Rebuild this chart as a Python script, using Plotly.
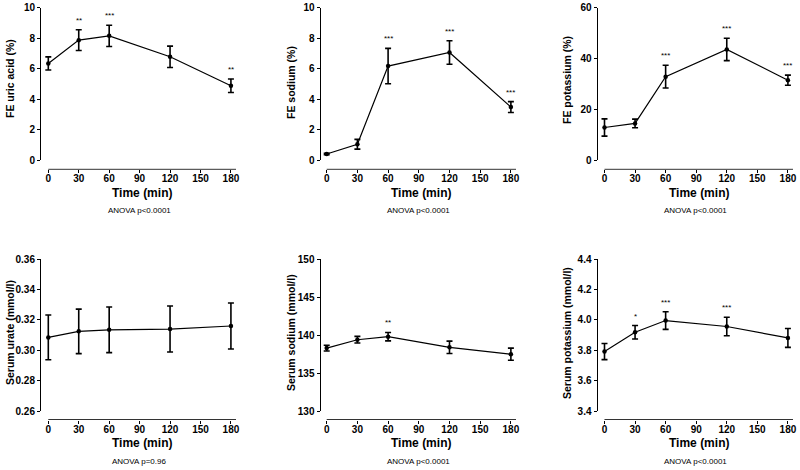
import plotly.graph_objects as go

time_min = [0, 30, 60, 120, 180]

fe_urate = [6.33, 7.86, 8.14, 6.77, 4.87]
fe_urate_err = [0.43, 0.68, 0.70, 0.70, 0.44]
fe_urate_sig = ["", "**", "***", "", "**"]

fe_sodium = [0.39, 1.03, 6.16, 7.05, 3.47]
fe_sodium_err = [0.05, 0.32, 1.16, 0.77, 0.36]
fe_sodium_sig = ["", "", "***", "***", "***"]

fe_potassium = [12.8, 14.4, 32.8, 43.5, 31.4]
fe_potassium_err = [3.4, 1.7, 4.5, 4.4, 2.0]
fe_potassium_sig = ["", "", "***", "***", "***"]

s_urate = [0.3085, 0.3125, 0.3135, 0.3140, 0.3160]
s_urate_err = [0.0147, 0.0146, 0.0150, 0.0151, 0.0151]
s_urate_sig = ["", "", "", "", ""]

s_sodium = [138.3, 139.4, 139.8, 138.4, 137.5]
s_sodium_err = [0.38, 0.44, 0.55, 0.81, 0.79]
s_sodium_sig = ["", "", "**", "", ""]

s_potassium = [3.792, 3.919, 3.996, 3.957, 3.882]
s_potassium_err = [0.053, 0.044, 0.058, 0.061, 0.062]
s_potassium_sig = ["", "*", "***", "***", ""]

y_titles = ["FE uric acid (%)", "FE sodium (%)", "FE potassium (%)",
            "Serum urate (mmol/l)", "Serum sodium (mmol/l)", "Serum potassium (mmol/l)"]
anova_texts = ["ANOVA p<0.0001", "ANOVA p<0.0001", "ANOVA p<0.0001",
               "ANOVA p=0.96", "ANOVA p<0.0001", "ANOVA p<0.0001"]
x_ticks = [0, 30, 60, 90, 120, 150, 180]
y_ticks = [
    [0, 2, 4, 6, 8, 10],
    [0, 2, 4, 6, 8, 10],
    [0, 20, 40, 60],
    [0.26, 0.28, 0.30, 0.32, 0.34, 0.36],
    [130, 135, 140, 145, 150],
    [3.4, 3.6, 3.8, 4.0, 4.2, 4.4],
]
y_fmt = ["d", "d", "d", ".2f", "d", ".1f"]

panels = [
    (fe_urate, fe_urate_err, fe_urate_sig),
    (fe_sodium, fe_sodium_err, fe_sodium_sig),
    (fe_potassium, fe_potassium_err, fe_potassium_sig),
    (s_urate, s_urate_err, s_urate_sig),
    (s_sodium, s_sodium_err, s_sodium_sig),
    (s_potassium, s_potassium_err, s_potassium_sig),
]

W, H = 800, 470
FONT = "Liberation Sans, Arial, sans-serif"
X_END = 185   # end of the drawn time axis
X_PAD = 8     # extra room left of t=0 so the first error bar is not clipped


def fx(px):
    return min(1.0, max(0.0, px / W))


def fy(py):
    return min(1.0, max(0.0, 1 - py / H))


# layout geometry in screen pixels (x of t=0, x of axis end)
col_x = [(48.3, 236.0), (326.7, 516.0), (604.5, 793.0)]
col_yaxis = [40.0, 319.5, 596.5]
row_y = [(7.5, 160.0), (259.0, 411.3)]
row_xaxis = [169.3, 419.5]
ytitle_x = [10, 291, 567]
ytitle_y = [[79, 333], [83, 333], [80, 333]]
xtitle_y = [193, 443]
anova_y = [211, 461]

fig = go.Figure()
annotations = []
shapes = []
layout = {}

for i, (vals, errs, sigs) in enumerate(panels):
    r, c = divmod(i, 3)
    n = i + 1
    xa = "x" if n == 1 else f"x{n}"
    ya = "y" if n == 1 else f"y{n}"
    fig.add_trace(go.Scatter(
        x=time_min, y=vals, xaxis=xa, yaxis=ya,
        mode="lines+markers",
        line=dict(color="black", width=1.2),
        marker=dict(color="black", size=4.5),
        error_y=dict(type="data", array=errs, visible=True,
                     color="black", thickness=1.6, width=3),
        showlegend=False, cliponaxis=False, hoverinfo="skip",
    ))
    x0, x1 = col_x[c]
    scale = (x1 - x0) / X_END
    y0, y1 = row_y[r]
    ymin, ymax = y_ticks[i][0], y_ticks[i][-1]
    layout[f"xaxis{'' if n == 1 else n}"] = dict(
        domain=[fx(x0 - X_PAD * scale), fx(x1)], range=[-X_PAD, X_END],
        anchor="free", position=fy(row_xaxis[r]),
        tickvals=x_ticks, ticks="outside", ticklen=3, tickwidth=1,
        tickcolor="black", showline=False,
        showgrid=False, zeroline=False, automargin=False,
        ticklabeloverflow="allow", ticklabelstandoff=-3,
        tickfont=dict(family=FONT, size=10, color="black", weight="bold"),
    )
    # x axis line starting at t=0 (Prism-style offset axis)
    shapes.append(dict(
        type="line", xref=xa, yref="paper", x0=0, x1=X_END,
        y0=fy(row_xaxis[r]), y1=fy(row_xaxis[r]),
        line=dict(color="#333", width=1),
    ))
    layout[f"yaxis{'' if n == 1 else n}"] = dict(
        domain=[fy(y1), fy(y0)], range=[ymin, ymax], anchor="free",
        position=fx(col_yaxis[c]),
        tickvals=y_ticks[i], tickformat=y_fmt[i],
        ticks="outside", ticklen=3, tickwidth=1, tickcolor="black",
        showline=True, linecolor="black", linewidth=1,
        showgrid=False, zeroline=False, automargin=False,
        ticklabeloverflow="allow",
        tickfont=dict(family=FONT, size=10, color="black", weight="bold"),
    )
    for t, v, e, s in zip(time_min, vals, errs, sigs):
        if s:
            annotations.append(dict(
                x=t, y=v + e, xref=xa, yref=ya, text=s, showarrow=False,
                yanchor="bottom", yshift=3,
                font=dict(family=FONT, size=8, color="black"),
            ))
    annotations.append(dict(
        x=fx(ytitle_x[c]), y=fy(ytitle_y[c][r]), xref="paper", yref="paper",
        text=y_titles[i], textangle=-90, showarrow=False,
        xanchor="center", yanchor="middle",
        font=dict(family=FONT, size=10.5, color="black", weight="bold"),
    ))
    annotations.append(dict(
        x=fx((x0 + x1) / 2), y=fy(xtitle_y[r]), xref="paper", yref="paper",
        text="Time (min)", showarrow=False, xanchor="center", yanchor="middle",
        font=dict(family=FONT, size=12, color="black", weight="bold"),
    ))
    annotations.append(dict(
        x=fx((x0 + x1) / 2 - 3), y=fy(anova_y[r]), xref="paper", yref="paper",
        text=anova_texts[i], showarrow=False, xanchor="center", yanchor="middle",
        font=dict(family=FONT, size=8, color="black"),
    ))

fig.update_layout(
    width=W, height=H, margin=dict(l=0, r=0, t=0, b=0),
    paper_bgcolor="white", plot_bgcolor="white", hovermode=False,
    annotations=annotations, shapes=shapes, **layout,
)
# remove the browser's default page margin so the figure sits at the top-left corner
fig.write_html("out.html", config={"displayModeBar": False},
               post_script="document.body.style.margin='0';document.body.style.padding='0';")
